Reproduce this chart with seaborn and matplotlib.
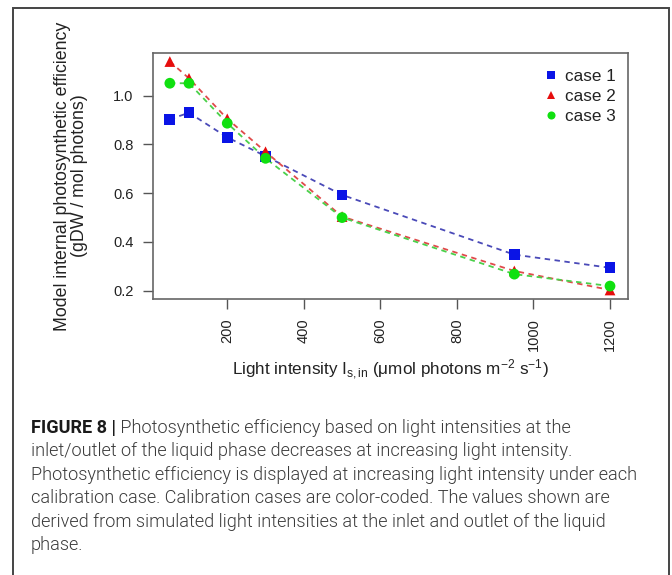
import matplotlib
matplotlib.use("Agg")
import matplotlib.pyplot as plt
import matplotlib.patches as mpatches
import seaborn as sns
import pandas as pd

# ---- data ----
light = [50, 100, 200, 300, 500, 950, 1200]
case1 = [0.903, 0.930, 0.829, 0.752, 0.593, 0.348, 0.294]
case2 = [1.140, 1.071, 0.905, 0.770, 0.504, 0.281, 0.203]
case3 = [1.051, 1.051, 0.887, 0.743, 0.500, 0.268, 0.219]
case_names = ["case 1", "case 2", "case 3"]
x_ticks = [200, 400, 600, 800, 1000, 1200]
y_ticks = [0.2, 0.4, 0.6, 0.8, 1.0]
caption_bold = "FIGURE 8 |"
caption_lines = [
    " Photosynthetic efficiency based on light intensities at the",
    "inlet/outlet of the liquid phase decreases at increasing light intensity.",
    "Photosynthetic efficiency is displayed at increasing light intensity under each",
    "calibration case. Calibration cases are color-coded. The values shown are",
    "derived from simulated light intensities at the inlet and outlet of the liquid",
    "phase.",
]

df = pd.DataFrame({
    "light": light * 3,
    "eff": case1 + case2 + case3,
    "case": [case_names[0]] * len(light) + [case_names[1]] * len(light) + [case_names[2]] * len(light),
})

sns.set_theme(style="white")
plt.rcParams["font.family"] = ["Liberation Sans", "DejaVu Sans"]
plt.rcParams["mathtext.fontset"] = "custom"
plt.rcParams["mathtext.rm"] = "Liberation Sans"
plt.rcParams["mathtext.it"] = "Liberation Sans"

W, H = 672, 575
fig = plt.figure(figsize=(W / 100, H / 100), dpi=100)
fig.patch.set_facecolor("white")
ax = fig.add_axes([153 / W, 1 - 299 / H, 475 / W, 246 / H])

line_pal = {"case 1": "#4a4ab8", "case 2": "#e04a4a", "case 3": "#4ad04a"}
mark_pal = {"case 1": "#0a14e6", "case 2": "#e60d0d", "case 3": "#10e010"}
markers = {"case 1": "s", "case 2": "^", "case 3": "o"}

sns.lineplot(data=df, x="light", y="eff", hue="case", palette=line_pal,
             dashes=False, lw=1.3, ax=ax, legend=False, sort=False)
for l in ax.get_lines():
    l.set_linestyle((0, (3, 2.5)))

sns.scatterplot(data=df, x="light", y="eff", hue="case", style="case",
                palette=mark_pal, markers=markers, s=60, linewidth=0,
                ax=ax, legend=True, zorder=3)

handles, labels = ax.get_legend_handles_labels()
leg = ax.legend(handles, labels, loc="upper right", frameon=False,
                fontsize=12.3, markerscale=0.75, handletextpad=0.35,
                handlelength=1.0, labelspacing=0.3, borderaxespad=0.3,
                bbox_to_anchor=(1.0, 0.985))
for t in leg.get_texts():
    t.set_color("#222222")

ax.set_xlim(6, 1247)
ax.set_ylim(0.166, 1.175)
ax.set_xticks(x_ticks)
ax.set_yticks(y_ticks)
ax.set_xticklabels([str(v) for v in x_ticks], rotation=90)
ax.set_yticklabels([f"{v:.1f}" for v in y_ticks])
ax.tick_params(axis="both", which="major", direction="out", length=7,
               width=1, color="#555555", labelsize=10.5, labelcolor="#222222",
               bottom=True, left=True, pad=7)
for sp in ax.spines.values():
    sp.set_visible(True)
    sp.set_color("#666666")
    sp.set_linewidth(1.2)

ax.set_xlabel(r"Light intensity I$_{\mathregular{s,in}}$ ($\mathregular{\mu}$mol photons m$^{\mathregular{-2}}$ s$^{\mathregular{-1}}$)",
              fontsize=12.3, color="#222222", labelpad=5)
ax.set_ylabel("Model internal photosynthetic efficiency\n(gDW / mol photons)",
              fontsize=12.8, color="#222222", labelpad=18, linespacing=1.05)

# outer frame
rect = mpatches.Rectangle((13 / W, -0.05), (669 - 13) / W, 1.05 - 8 / H,
                          transform=fig.transFigure, fill=False,
                          edgecolor="#444444", linewidth=1.4)
fig.patches.append(rect)

# caption
cap_font = ["Roboto", "DejaVu Sans"]
y0 = 428
dy = 23.4
fs = 13.1
renderer = fig.canvas.get_renderer()
tb = fig.text(31 / W, 1 - y0 / H, caption_bold, fontsize=fs, fontweight="bold",
              color="#1a1a1a", va="center", ha="left", family=cap_font)
bb = tb.get_window_extent(renderer=renderer)
fig.text(bb.x1 / W, 1 - y0 / H, caption_lines[0], fontsize=fs, color="#3a3a3a",
         fontweight=300, va="center", ha="left", family=cap_font)
for i, line in enumerate(caption_lines[1:], start=1):
    fig.text(31 / W, 1 - (y0 + i * dy) / H, line, fontsize=fs, color="#3a3a3a",
             fontweight=300, va="center", ha="left", family=cap_font)

fig.savefig("out.png", dpi=100, facecolor="white")
